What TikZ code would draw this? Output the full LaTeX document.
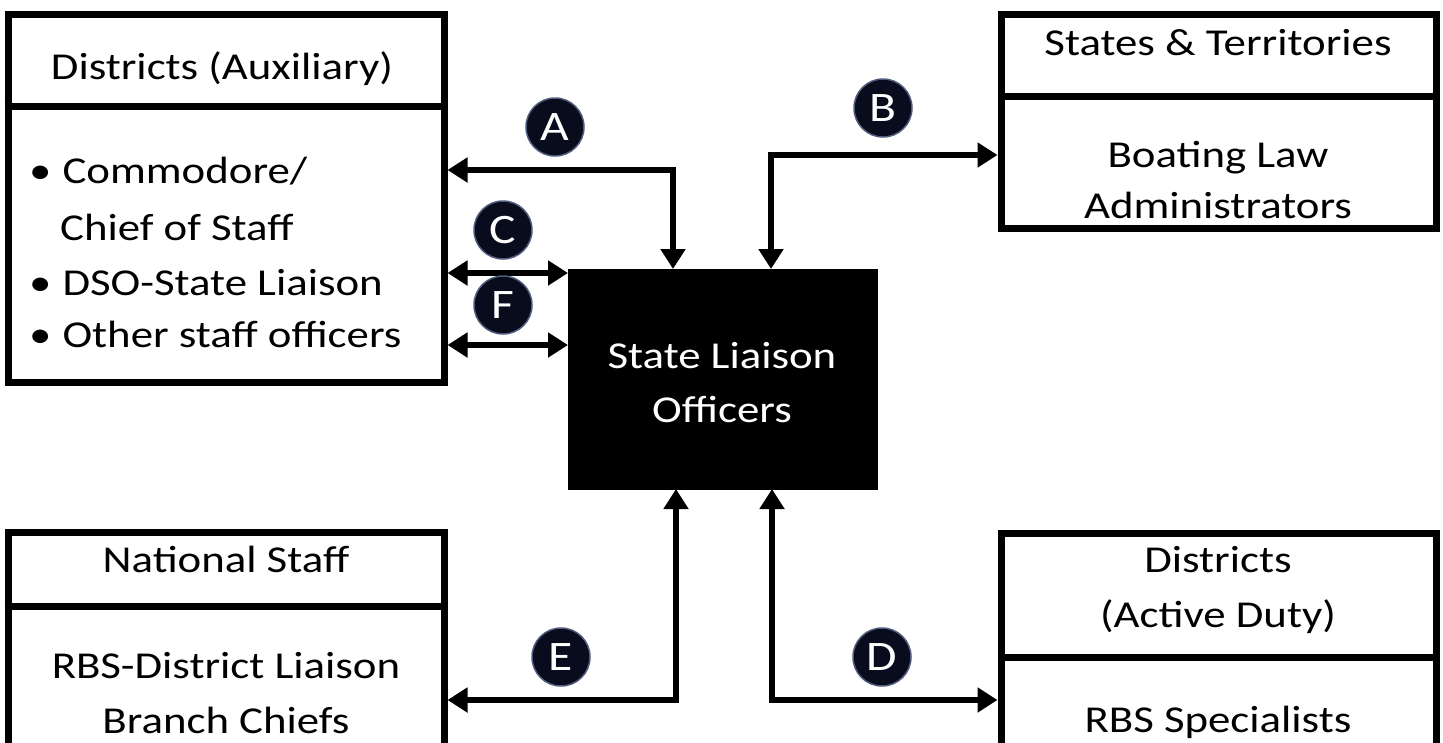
\documentclass[tikz,border=0pt]{standalone}
\usepackage{fontspec}
\setmainfont{Carlito}[FakeStretch=1.18]
\usetikzlibrary{arrows.meta}
\definecolor{badgefill}{RGB}{8,12,28}
\definecolor{badgeedge}{RGB}{80,92,125}
\tikzset{
  boxframe/.style={draw=black, fill=white, line width=7pt, inner sep=0pt},
  divider/.style={line width=7pt},
  txt/.style={font=\fontsize{38}{46}\selectfont, inner sep=0pt, anchor=base},
  txtl/.style={font=\fontsize{38}{46}\selectfont, inner sep=0pt, anchor=base west},
  link/.style={line width=6pt, {Triangle[length=20pt,width=24pt]}-{Triangle[length=20pt,width=24pt]}},
  badge/.style={circle, fill=badgefill, draw=badgeedge, line width=1.5pt, minimum size=58pt, inner sep=0pt, text=white, font=\fontsize{42}{42}\selectfont},
}
\begin{document}
\begin{tikzpicture}[x=1pt,y=-1pt]
\useasboundingbox (0,0) rectangle (1443,742);
\fill[white] (0,0) rectangle (1443,742);
\clip (0,0) rectangle (1443,742);

% boxes
\node[boxframe, minimum width=436pt, minimum height=368pt] (LA) at (226,198) {};
\node[boxframe, minimum width=435pt, minimum height=214pt] (TR) at (1218.5,121) {};
\node[boxframe, minimum width=436pt, minimum height=268pt] (BL) at (226,666) {};
\node[boxframe, minimum width=435pt, minimum height=267pt] (BR) at (1218.5,666.5) {};
\node[fill=black, draw=black, minimum width=309pt, minimum height=220pt, inner sep=0pt, outer sep=0pt] (SLO) at (722.5,379) {};

% dividers
\coordinate (dLA) at (0,106);
\coordinate (dTR) at (0,96);
\coordinate (dBL) at (0,606);
\coordinate (dBR) at (0,657);
\draw[divider] (LA.west |- dLA) -- (LA.east |- dLA);
\draw[divider] (TR.west |- dTR) -- (TR.east |- dTR);
\draw[divider] (BL.west |- dBL) -- (BL.east |- dBL);
\draw[divider] (BR.west |- dBR) -- (BR.east |- dBR);

% texts: left top box
\node[txt] (tLAh) at (222,79) {Districts (Auxiliary)};
\node[txtl] (tLA1) at (29,183) {•\hspace{11pt}Commodore/};
\node[txtl] (tLA2) at (60,240) {Chief of Staff};
\node[txtl] (tLA3) at (29,295) {•\hspace{11pt}DSO-State Liaison};
\node[txtl] (tLA4) at (29,347) {•\hspace{11pt}Other staff officers};

% top right box
\node[txt] (tTRh) at (1218,55) {States \& Territories};
\node[txt] (tTR1) at (1218,167) {Boating Law};
\node[txt] (tTR2) at (1218,218) {Administrators};

% center
\node[txt, text=white] (tS1) at (722,368) {State Liaison};
\node[txt, text=white] (tS2) at (722,422) {Officers};

% bottom left
\node[txt] (tBLh) at (226,572) {National Staff};
\node[txt] (tBL1) at (226,678) {RBS-District Liaison};
\node[txt] (tBL2) at (226,733) {Branch Chiefs};

% bottom right
\node[txt] (tBRh) at (1218,572) {Districts};
\node[txt] (tBR2) at (1218,627) {(Active Duty)};
\node[txt] (tBR3) at (1218,732) {RBS Specialists};

% connector coordinates
\coordinate (cA) at (673,170);
\coordinate (cB) at (771,155);
\coordinate (cC) at (0,273);
\coordinate (cF) at (0,345);
\coordinate (cE) at (676,700);
\coordinate (cD) at (772,700);

\draw[link] (LA.east |- cA) -| (SLO.north -| cA);
\draw[link] (SLO.north -| cB) |- (TR.west |- cB);
\draw[link] (LA.east |- cC) -- (SLO.west |- cC);
\draw[link] (LA.east |- cF) -- (SLO.west |- cF);
\draw[link] (SLO.south -| cE) |- (BL.east |- cE);
\draw[link] (SLO.south -| cD) |- (BR.west |- cD);

% badges
\node[badge] (bA) at (555,127) {A};
\node[badge] (bB) at (883,108) {B};
\node[badge] (bC) at (503,230) {C};
\node[badge] (bF) at (503,305) {F};
\node[badge] (bE) at (561,657) {E};
\node[badge] (bD) at (882,657) {D};
\end{tikzpicture}
\end{document}
